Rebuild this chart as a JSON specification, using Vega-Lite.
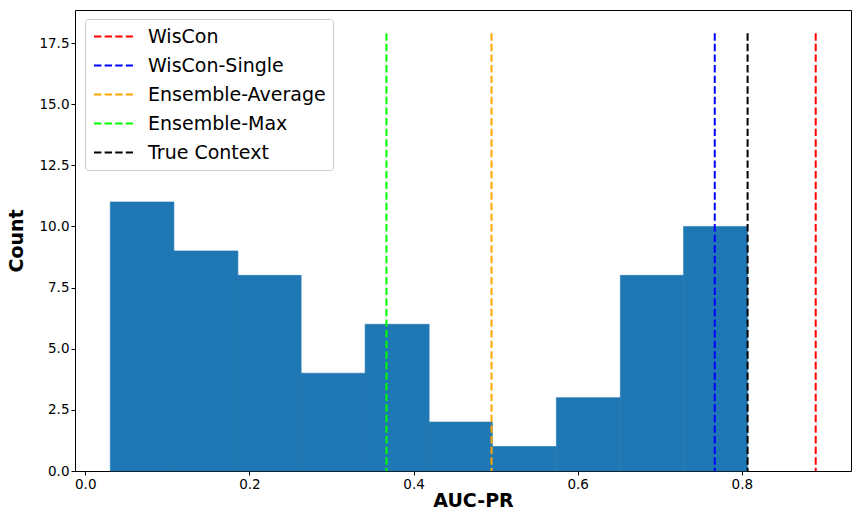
{
  "$schema": "https://vega.github.io/schema/vega-lite/v6.json",
  "width": 776,
  "height": 461,
  "autosize": "none",
  "padding": {"left": 75, "top": 10, "right": 7, "bottom": 42},
  "background": "white",
  "config": {
    "font": "DejaVu Sans",
    "view": {"stroke": "black", "strokeWidth": 1},
    "axis": {
      "grid": false,
      "domain": false,
      "tickColor": "black",
      "tickSize": 4,
      "labelColor": "black",
      "labelFontSize": 13.5,
      "labelFont": "DejaVu Sans",
      "titleFont": "DejaVu Sans",
      "titleFontSize": 19,
      "titleFontWeight": "bold",
      "titleColor": "black"
    }
  },
  "datasets": {
    "bins": [
      {"bin_start": 0.0305, "bin_end": 0.108, "count": 11},
      {"bin_start": 0.108, "bin_end": 0.186, "count": 9},
      {"bin_start": 0.186, "bin_end": 0.263, "count": 8},
      {"bin_start": 0.263, "bin_end": 0.341, "count": 4},
      {"bin_start": 0.341, "bin_end": 0.419, "count": 6},
      {"bin_start": 0.419, "bin_end": 0.496, "count": 2},
      {"bin_start": 0.496, "bin_end": 0.574, "count": 1},
      {"bin_start": 0.574, "bin_end": 0.652, "count": 3},
      {"bin_start": 0.652, "bin_end": 0.729, "count": 8},
      {"bin_start": 0.729, "bin_end": 0.807, "count": 10}
    ],
    "methods": [
      {"method": "WisCon", "auc": 0.890, "top": 17.9},
      {"method": "WisCon-Single", "auc": 0.767, "top": 17.9},
      {"method": "Ensemble-Average", "auc": 0.495, "top": 17.9},
      {"method": "Ensemble-Max", "auc": 0.367, "top": 17.9},
      {"method": "True Context", "auc": 0.807, "top": 17.9}
    ]
  },
  "layer": [
    {
      "data": {"name": "bins"},
      "mark": {"type": "rect", "color": "#1f77b4", "stroke": "#1f77b4", "strokeWidth": 0.6},
      "encoding": {
        "x": {
          "field": "bin_start",
          "type": "quantitative",
          "scale": {"domain": [-0.0125, 0.933], "nice": false, "zero": false},
          "axis": {"title": "AUC-PR", "values": [0, 0.2, 0.4, 0.6, 0.8], "format": ".1f", "titlePadding": 1, "titleX": 398}
        },
        "x2": {"field": "bin_end"},
        "y": {
          "field": "count",
          "type": "quantitative",
          "scale": {"domain": [0, 18.85], "nice": false},
          "axis": {"title": "Count", "values": [0, 2.5, 5, 7.5, 10, 12.5, 15, 17.5], "format": ".1f", "titlePadding": 12}
        },
        "y2": {"datum": 0}
      }
    },
    {
      "data": {"name": "methods"},
      "mark": {"type": "rule", "strokeWidth": 2, "strokeDash": [7.4, 3.2]},
      "encoding": {
        "x": {"field": "auc", "type": "quantitative"},
        "y": {"field": "top", "type": "quantitative"},
        "y2": {"datum": 0},
        "color": {
          "field": "method",
          "type": "nominal",
          "scale": {
            "domain": ["WisCon", "WisCon-Single", "Ensemble-Average", "Ensemble-Max", "True Context"],
            "range": ["#ff0000", "#0000ff", "#ffa500", "#00ff00", "#000000"]
          },
          "legend": {
            "title": null,
            "orient": "none",
            "legendX": 10,
            "legendY": 9,
            "symbolType": "M-2.05,0H2.05",
            "symbolSize": 361,
            "symbolStrokeWidth": 2,
            "symbolDash": [7.4, 3.2],
            "symbolOffset": 11,
            "labelFontSize": 19,
            "labelFont": "DejaVu Sans",
            "labelColor": "black",
            "labelLimit": 400,
            "labelOffset": 24,
            "rowPadding": 8,
            "padding": 7,
            "fillColor": "white",
            "strokeColor": "#cccccc",
            "cornerRadius": 3
          }
        }
      }
    }
  ]
}
